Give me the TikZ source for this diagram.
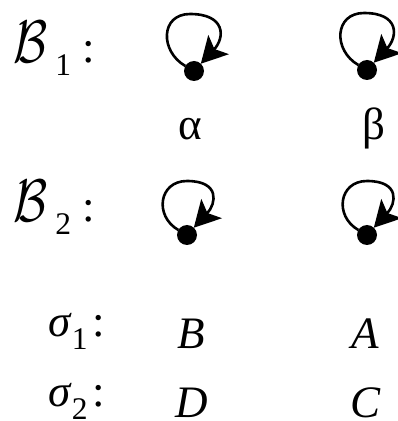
\documentclass[tikz,border=0pt]{standalone}
\usepackage{fontspec}
\setmainfont{Liberation Serif}
\usepackage{tikz}
\usetikzlibrary{arrows.meta,positioning}

\begin{document}
\begin{tikzpicture}[
  x=1pt, y=1pt,
  every node/.style={inner sep=0pt, font=\fontsize{45}{50}\selectfont},
  dot/.style={circle, fill, outer sep=0pt, minimum size=20pt},
  lbl/.style={anchor=base west},
  sym/.style={anchor=base},
  selfloop/.style={line width=2.6pt, -{Stealth[length=26pt,width=28pt,inset=6pt]}}
]
\useasboundingbox (0,0) rectangle (398,421);
% first row
\node[lbl] (bone) at (13,358) {{\fontsize{20}{20}\selectfont\scalebox{2.4}[2.9]{$\mathcal{B}$}}\hspace{8pt}\textsubscript{1}\hspace{11pt}:};
\node[dot] (d11) at (194,350) {};
\node[dot] (d12) at (367,351) {};
\coordinate[above=47pt of d11, xshift=-4pt] (t11);
\coordinate[above=47pt of d12, xshift=-3pt] (t12);
\draw[selfloop] (d11) to[out=150,in=180,looseness=1.45] (t11) to[out=0,in=47,looseness=1.8] (d11);
\draw[selfloop] (d12) to[out=150,in=180,looseness=1.45] (t12) to[out=0,in=47,looseness=1.8] (d12);
\node[sym] (alpha) at (190,281) {α};
\node[sym] (beta)  at (374,281) {β};
% second row
\node[lbl] (btwo) at (13,199) {{\fontsize{20}{20}\selectfont\scalebox{2.4}[2.9]{$\mathcal{B}$}}\hspace{8pt}\textsubscript{2}\hspace{11pt}:};
\node[dot] (d21) at (187,186) {};
\node[dot] (d22) at (367,186) {};
\coordinate[above=44pt of d21] (t21);
\coordinate[above=44pt of d22] (t22);
\draw[selfloop] (d21) to[out=150,in=180,looseness=1.45] (t21) to[out=0,in=47,looseness=1.8] (d21);
\draw[selfloop] (d22) to[out=150,in=180,looseness=1.45] (t22) to[out=0,in=47,looseness=1.8] (d22);
% permutations
\node[lbl] (sone) at (48,84) {\textit{σ}\textsubscript{1}\hspace{4pt}:};
\node[sym] (pb) at (191,72) {\textit{B}};
\node[sym] (pa) at (365,72) {\textit{A}};
\node[lbl] (stwo) at (48,14) {\textit{σ}\textsubscript{2}\hspace{4pt}:};
\node[sym] (pd) at (192,4) {\textit{D}};
\node[sym] (pc) at (366,4) {\textit{C}};
\end{tikzpicture}
\end{document}
